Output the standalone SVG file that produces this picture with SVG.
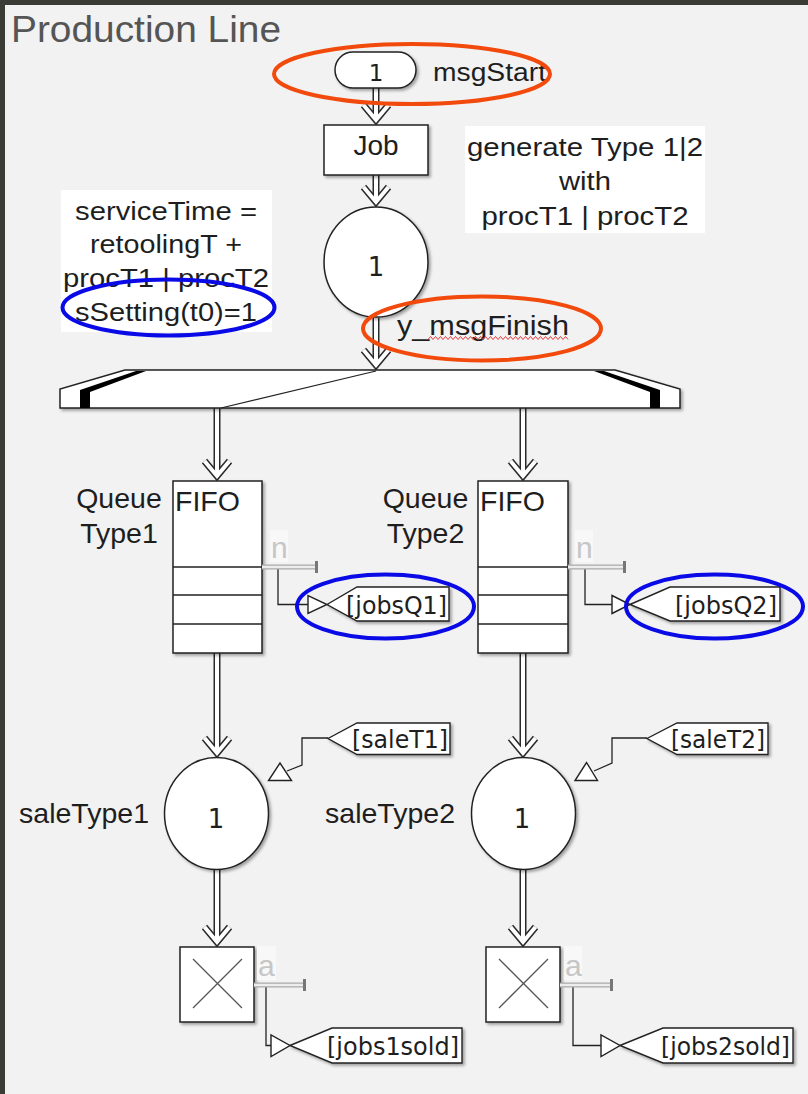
<svg xmlns="http://www.w3.org/2000/svg" width="808" height="1094" viewBox="0 0 808 1094">
<style>
.t{font-family:"Liberation Sans",Arial,sans-serif;fill:#1e1e1e}
.d{font-family:"DejaVu Sans",sans-serif;fill:#1e1e1e}
.blk{fill:#fff;stroke:#222;stroke-width:1.5;filter:url(#sh)}
.wo{fill:none;stroke:#2a2a2a;stroke-width:7;stroke-linejoin:miter}
.wi{fill:none;stroke:#fff;stroke-width:4;stroke-linejoin:miter}
.lk{fill:none;stroke:#222;stroke-width:1.3}
.po{fill:none;stroke:#a9a9a9;stroke-width:5}
.pi{fill:none;stroke:#ededed;stroke-width:2.4}
.pt{fill:#777}
.plab{font-family:"Liberation Sans",Arial,sans-serif;font-size:30px;fill:#c6c6c6}
.tagbox{fill:#fff;stroke:#222;stroke-width:1.4;filter:url(#sh)}
.tri{fill:#fff;stroke:#222;stroke-width:1.4;stroke-linejoin:miter}
.tag{font-family:"DejaVu Sans",sans-serif;font-size:25.5px;fill:#1e1e1e;text-anchor:end}
.note{fill:#fff}
.ntxt{font-family:"Liberation Sans",Arial,sans-serif;font-size:26px;fill:#1e1e1e;text-anchor:middle}
.lab{font-family:"Liberation Sans",Arial,sans-serif;font-size:28.5px;fill:#1e1e1e}
.orange{fill:none;stroke:#f24a0c;stroke-width:4}
.blue{fill:none;stroke:#0a0ae6;stroke-width:4}
</style>
<defs>
  <filter id="sh" x="-10%" y="-10%" width="130%" height="130%">
    <feDropShadow dx="2" dy="2" stdDeviation="1.5" flood-color="#000" flood-opacity="0.35"/>
  </filter>
  <path id="chev" d="M-12.5,-20 L0,-5 L12.5,-20"/>
</defs>

<!-- frame -->
<rect x="0" y="0" width="808" height="1094" fill="#3a3c35"/>
<rect x="5" y="5" width="803" height="1089" fill="#f2f2f2"/>

<text x="11" y="42" font-family="Liberation Sans, Arial, sans-serif" font-size="37" fill="#555" textLength="270" lengthAdjust="spacingAndGlyphs">Production Line</text>

<!-- annotation texts -->
<g id="note-generate">
  <rect class="note" x="465" y="126" width="240" height="107"/>
  <text class="ntxt" x="585" y="156" textLength="236" lengthAdjust="spacingAndGlyphs">generate Type 1|2</text>
  <text class="ntxt" x="585" y="190" textLength="52" lengthAdjust="spacingAndGlyphs">with</text>
  <text class="ntxt" x="585" y="225" textLength="207" lengthAdjust="spacingAndGlyphs">procT1 | procT2</text>
</g>
<g id="note-service">
  <rect class="note" x="61" y="190" width="211" height="142"/>
  <text class="ntxt" x="166" y="220" textLength="182" lengthAdjust="spacingAndGlyphs">serviceTime =</text>
  <text class="ntxt" x="166" y="253" textLength="152" lengthAdjust="spacingAndGlyphs">retoolingT +</text>
  <text class="ntxt" x="166" y="287" textLength="206" lengthAdjust="spacingAndGlyphs">procT1 | procT2</text>
  <text class="ntxt" x="166" y="321" textLength="182" lengthAdjust="spacingAndGlyphs">sSetting(t0)=1</text>
</g>

<!-- connectors -->
<g id="connectors">
  <g class="wo">
    <path d="M376,88 V119 M376,175 V201 M376,318 V364 M217,408 V475 M523,408 V475 M217,653 V752 M523,653 V752 M217,870 V941 M523,870 V941"/>
    <use href="#chev" transform="translate(376,125)"/>
    <use href="#chev" transform="translate(376,207)"/>
    <use href="#chev" transform="translate(376,370)"/>
    <use href="#chev" transform="translate(217,481)"/>
    <use href="#chev" transform="translate(523,481)"/>
    <use href="#chev" transform="translate(217,758)"/>
    <use href="#chev" transform="translate(523,758)"/>
    <use href="#chev" transform="translate(217,947)"/>
    <use href="#chev" transform="translate(523,947)"/>
  </g>
  <g class="wi">
    <path d="M376,88 V119 M376,175 V201 M376,318 V364 M217,408 V475 M523,408 V475 M217,653 V752 M523,653 V752 M217,870 V941 M523,870 V941"/>
    <use href="#chev" transform="translate(376,125)"/>
    <use href="#chev" transform="translate(376,207)"/>
    <use href="#chev" transform="translate(376,370)"/>
    <use href="#chev" transform="translate(217,481)"/>
    <use href="#chev" transform="translate(523,481)"/>
    <use href="#chev" transform="translate(217,758)"/>
    <use href="#chev" transform="translate(523,758)"/>
    <use href="#chev" transform="translate(217,947)"/>
    <use href="#chev" transform="translate(523,947)"/>
  </g>
  <!-- signal links -->
  <path class="lk" d="M278,567 V604.5 H308"/>
  <path class="lk" d="M585,567 V604.5 H612"/>
  <path class="lk" d="M328,738 H302 V765 L287,771"/>
  <path class="lk" d="M647,738 H612 V763 L594,771"/>
  <path class="lk" d="M266,985 V1045.5 H271"/>
  <path class="lk" d="M573,985 V1045.5 H601"/>
</g>

<!-- start event -->
<g id="msgStart">
  <rect class="blk" x="335" y="52" width="81" height="36" rx="18"/>
  <text class="d" x="376" y="81" font-size="23" text-anchor="middle">1</text>
  <text class="t" x="433" y="81" font-size="26" textLength="113" lengthAdjust="spacingAndGlyphs">msgStart</text>
</g>

<g id="job">
  <rect class="blk" x="324" y="125" width="104" height="50"/>
  <text class="t" x="376" y="155" font-size="28" text-anchor="middle">Job</text>
</g>

<g id="server">
  <ellipse class="blk" cx="376" cy="262" rx="52" ry="55"/>
  <text class="d" x="376" y="276" font-size="26" text-anchor="middle">1</text>
  <text class="t" x="397" y="335" font-size="28" textLength="172" lengthAdjust="spacingAndGlyphs">y_msgFinish</text>
  <path d="M428,339.5 l2.5,-3 l2.5,3 l2.5,-3 l2.5,3 l2.5,-3 l2.5,3 l2.5,-3 l2.5,3 l2.5,-3 l2.5,3 l2.5,-3 l2.5,3 l2.5,-3 l2.5,3 l2.5,-3 l2.5,3 l2.5,-3 l2.5,3 l2.5,-3 l2.5,3 l2.5,-3 l2.5,3 l2.5,-3 l2.5,3 l2.5,-3 l2.5,3 l2.5,-3 l2.5,3 l2.5,-3 l2.5,3 l2.5,-3 l2.5,3 l2.5,-3 l2.5,3 l2.5,-3 l2.5,3 l2.5,-3 l2.5,3 l2.5,-3 l2.5,3 l2.5,-3 l2.5,3 l2.5,-3 l2.5,3 l2.5,-3 l2.5,3 l2.5,-3 l2.5,3 l2.5,-3 l2.5,3 l2.5,-3 l2.5,3 l2.5,-3 l2.5,3 l2.5,-3 l2.5,3" fill="none" stroke="#e53a3a" stroke-width="1"/>
</g>

<g id="splitter">
  <polygon class="blk" points="125,370 615,370 680,389 680,408 60,408 60,389"/>
  <polygon points="80,408 90,408 90,392 146,371 136,371 80,390" fill="#000"/>
  <polygon points="660,408 650,408 650,392 594,371 604,371 660,390" fill="#000"/>
  <line x1="376" y1="371" x2="221" y2="408" stroke="#222" stroke-width="1.2"/>
</g>

<!-- queue type 1 -->
<g id="queue1">
  <rect class="blk" x="173" y="481" width="89" height="172"/>
  <path d="M173,567 H262 M173,595 H262 M173,624 H262" stroke="#222" stroke-width="1.5"/>
  <text class="lab" x="175" y="511">FIFO</text>
  <text class="lab" x="119" y="508" text-anchor="middle">Queue</text>
  <text class="lab" x="119" y="543" text-anchor="middle">Type1</text>
  <rect x="270" y="530" width="18" height="32" fill="#f8f8f8"/>
  <text class="plab" x="271" y="558">n</text>
  <path class="po" d="M262,567 H316"/>
  <path class="pi" d="M262,567 H316"/>
  <rect class="pt" x="315" y="561" width="3" height="12"/>
</g>
<g id="goto-jobsQ1">
  <polygon class="tagbox" points="327,604.5 357,587 449,587 449,621 357,621"/>
  <polygon class="tri" points="308,595.5 308,613.5 327,604.5"/>
  <text class="tag" x="447" y="614" textLength="101" lengthAdjust="spacingAndGlyphs">[jobsQ1]</text>
</g>

<!-- queue type 2 -->
<g id="queue2">
  <rect class="blk" x="478" y="481" width="90" height="172"/>
  <path d="M478,567 H568 M478,595 H568 M478,624 H568" stroke="#222" stroke-width="1.5"/>
  <text class="lab" x="480" y="511">FIFO</text>
  <text class="lab" x="425.5" y="508" text-anchor="middle">Queue</text>
  <text class="lab" x="425.5" y="543" text-anchor="middle">Type2</text>
  <rect x="575" y="530" width="18" height="32" fill="#f8f8f8"/>
  <text class="plab" x="576" y="558">n</text>
  <path class="po" d="M568,567 H624"/>
  <path class="pi" d="M568,567 H624"/>
  <rect class="pt" x="623" y="561" width="3" height="12"/>
</g>
<g id="goto-jobsQ2">
  <polygon class="tagbox" points="630,604.5 670,587 780,587 780,621 670,621"/>
  <polygon class="tri" points="612,595.5 612,613.5 630,604.5"/>
  <text class="tag" x="777" y="614" textLength="102" lengthAdjust="spacingAndGlyphs">[jobsQ2]</text>
</g>

<!-- sale servers -->
<g id="saleType1">
  <ellipse class="blk" cx="216.5" cy="813.5" rx="52" ry="56"/>
  <text class="d" x="216" y="828" font-size="26" text-anchor="middle">1</text>
  <text class="lab" x="149" y="823" text-anchor="end">saleType1</text>
  <polygon class="tri" points="268.5,780.5 291.5,780.5 280,763"/>
</g>
<g id="from-saleT1">
  <polygon class="tagbox" points="328,738.5 357,723 450,723 450,754.5 357,754.5"/>
  <text class="tag" x="448" y="748" textLength="96" lengthAdjust="spacingAndGlyphs">[saleT1]</text>
</g>
<g id="saleType2">
  <ellipse class="blk" cx="523.5" cy="813.5" rx="52" ry="56"/>
  <text class="d" x="522" y="828" font-size="26" text-anchor="middle">1</text>
  <text class="lab" x="455" y="823" text-anchor="end">saleType2</text>
  <polygon class="tri" points="575,780.5 597.5,780.5 586.5,762.5"/>
</g>
<g id="from-saleT2">
  <polygon class="tagbox" points="647,738.5 677,723 768,723 768,754.5 677,754.5"/>
  <text class="tag" x="765" y="748" textLength="94" lengthAdjust="spacingAndGlyphs">[saleT2]</text>
</g>

<!-- sinks -->
<g id="sink1">
  <rect class="blk" x="180" y="947" width="74" height="75"/>
  <path d="M193,959 L242,1008 M242,959 L193,1008" stroke="#555" stroke-width="1.3"/>
  <rect x="257" y="946" width="19" height="34" fill="#f8f8f8"/>
  <text class="plab" x="258" y="976">a</text>
  <path class="po" d="M254,985 H304"/>
  <path class="pi" d="M254,985 H304"/>
  <rect class="pt" x="303" y="979" width="3" height="12"/>
</g>
<g id="goto-jobs1sold">
  <polygon class="tagbox" points="290,1045.5 332,1028 462,1028 462,1063 332,1063"/>
  <polygon class="tri" points="271,1035 271,1056.5 290,1045.5"/>
  <text class="tag" x="459" y="1055" textLength="132" lengthAdjust="spacingAndGlyphs">[jobs1sold]</text>
</g>
<g id="sink2">
  <rect class="blk" x="486" y="947" width="74" height="75"/>
  <path d="M499,959 L548,1008 M548,959 L499,1008" stroke="#555" stroke-width="1.3"/>
  <rect x="564" y="946" width="18" height="34" fill="#f8f8f8"/>
  <text class="plab" x="565" y="976">a</text>
  <path class="po" d="M560,985 H611"/>
  <path class="pi" d="M560,985 H611"/>
  <rect class="pt" x="610" y="979" width="3" height="12"/>
</g>
<g id="goto-jobs2sold">
  <polygon class="tagbox" points="620,1045.5 663,1028 793,1028 793,1063 663,1063"/>
  <polygon class="tri" points="601,1035 601,1056.5 620,1045.5"/>
  <text class="tag" x="790" y="1055" textLength="129" lengthAdjust="spacingAndGlyphs">[jobs2sold]</text>
</g>

<!-- highlight marks -->
<g id="marks">
  <ellipse class="orange" cx="412" cy="74" rx="138" ry="30"/>
  <ellipse class="orange" cx="482" cy="328.5" rx="119" ry="32"/>
  <ellipse class="blue" cx="168.5" cy="307.5" rx="106" ry="28"/>
  <ellipse class="blue" cx="385.5" cy="606.5" rx="88.5" ry="32"/>
  <ellipse class="blue" cx="714.5" cy="606.5" rx="88.5" ry="32"/>
</g>
</svg>
